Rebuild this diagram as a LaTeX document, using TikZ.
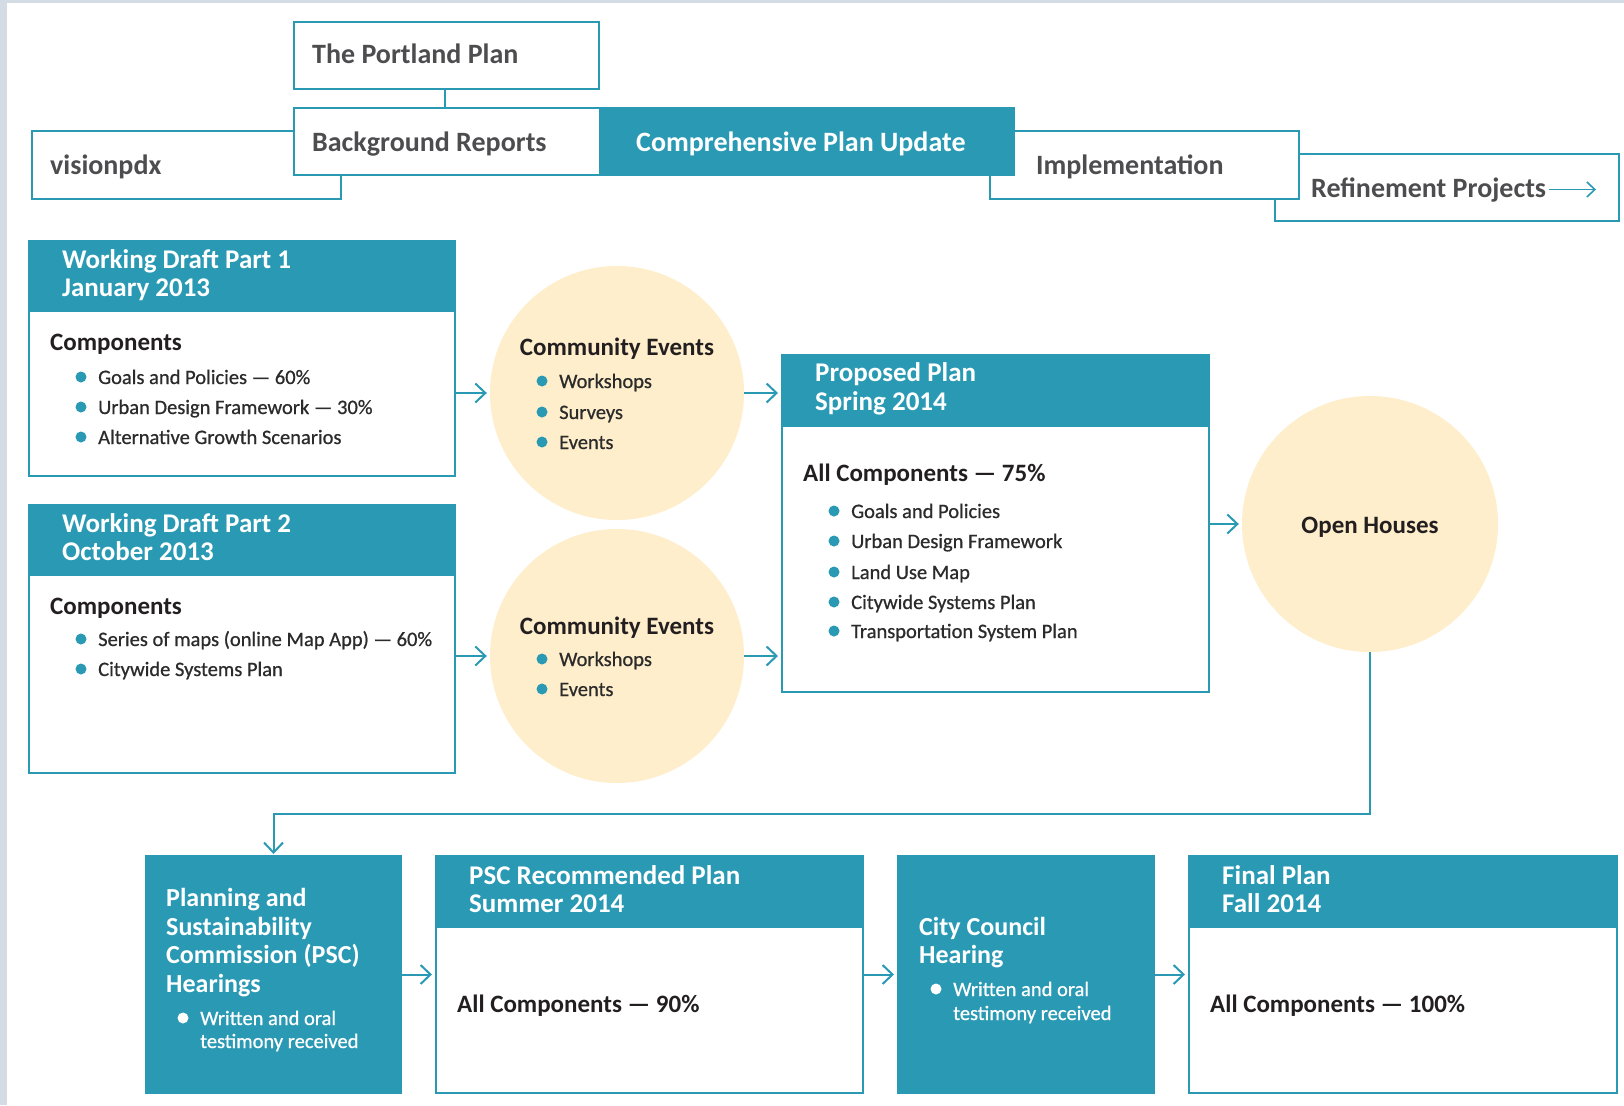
\documentclass[tikz,border=0pt]{standalone}
\usepackage{fontspec}
\setmainfont{Carlito}
\newfontfamily\bodyfont{Carlito}[FakeBold=0.7]
\usetikzlibrary{arrows.meta}
\definecolor{pteal}{HTML}{2A9AB4}
\definecolor{cream}{HTML}{FEEECB}
\definecolor{dgray}{HTML}{4D4D4F}
\definecolor{tblack}{HTML}{231F20}
\definecolor{bodyc}{HTML}{2B2B2B}
\definecolor{strip}{HTML}{D3DCE4}
\tikzset{
 box/.style={draw=pteal, line width=2pt, fill=white, inner sep=0pt, anchor=north west},
 fillbox/.style={box, fill=pteal},
 toplbl/.style={anchor=base west, inner sep=0pt, font=\fontsize{28}{32}\selectfont\bfseries, text=dgray},
 hdr/.style={anchor=base west, inner sep=0pt, font=\fontsize{27}{30}\selectfont\bfseries, text=white},
 ttl/.style={anchor=base west, inner sep=0pt, font=\fontsize{25}{28}\selectfont\bfseries, text=tblack},
 body/.style={anchor=base west, inner sep=0pt, font=\bodyfont\fontsize{20.5}{24}\selectfont, text=bodyc},
 wbody/.style={body, text=white},
 dot/.style={circle, fill=pteal, minimum size=11pt, inner sep=0pt},
 wdot/.style={dot, fill=white},
 evt/.style={circle, fill=cream, minimum size=254pt, inner sep=0pt},
 arr/.style={draw=pteal, line width=2pt, -{Straight Barb[length=10pt,width=19pt]}, shorten >=3pt},
 thinarr/.style={draw=pteal, line width=1.6pt, -{Straight Barb[length=8pt,width=15pt]}},
}
\begin{document}
\begin{tikzpicture}[x=1pt,y=-1pt]
\useasboundingbox (0,0) rectangle (1624,1105);
\fill[white] (0,0) rectangle (1624,1105);
\fill[strip] (0,0) rectangle (1624,3);
\fill[strip] (0,0) rectangle (7,1105);

% ---------- top timeline ----------
\node[box, minimum width=344pt, minimum height=67pt] (refine) at (1274,153) {};
\node[box, minimum width=309pt, minimum height=68pt] (impl) at (989,130) {};
\node[box, minimum width=309pt, minimum height=68pt] (vision) at (31,130) {};
\node[box, minimum width=306pt, minimum height=67pt] (backg) at (293,107) {};
\node[fillbox, minimum width=414pt, minimum height=67pt] (comp) at (599,107) {};
\node[box, minimum width=305pt, minimum height=67pt] (portland) at (293,21) {};
\draw[draw=pteal, line width=2pt] (portland.south -| 445,0) -- (backg.north -| 445,0);

\node[toplbl] (portlandt) at (312,64) {The Portland Plan};
\node[toplbl] (backgt) at (312,151) {Background Reports};
\node[toplbl, text=white] (compt) at (636,151) {Comprehensive Plan Update};
\node[toplbl] (visiont) at (50,174) {visionpdx};
\node[toplbl] (implt) at (1036,174) {Implementation};
\node[toplbl] (refinet) at (1311,197.5) {Refinement Projects};
\coordinate (rfstart) at (1549,189.5);
\coordinate (rfend) at (1596,189.5);
\draw[thinarr] (rfstart) -- (rfend);

% ---------- Working Draft Part 1 ----------
\node[box, minimum width=426pt, minimum height=235pt] (wd1) at (28,240) {};
\node[fillbox, minimum width=426pt, minimum height=70pt] (wd1h) at (28,240) {};
\node[hdr] (wd1t1) at (62,268) {Working Draft Part 1};
\node[hdr] (wd1t2) at (62,296) {January 2013};
\node[ttl] (wd1c) at (50,350) {Components};
\node[dot] (wd1d1) at (81,377) {};
\node[body] (wd1b1) at (98,384) {Goals and Policies — 60\%};
\node[dot] (wd1d2) at (81,407) {};
\node[body] (wd1b2) at (98,414) {Urban Design Framework — 30\%};
\node[dot] (wd1d3) at (81,437) {};
\node[body] (wd1b3) at (98,444) {Alternative Growth Scenarios};

% ---------- Working Draft Part 2 ----------
\node[box, minimum width=426pt, minimum height=268pt] (wd2) at (28,504) {};
\node[fillbox, minimum width=426pt, minimum height=70pt] (wd2h) at (28,504) {};
\node[hdr] (wd2t1) at (62,532) {Working Draft Part 2};
\node[hdr] (wd2t2) at (62,560) {October 2013};
\node[ttl] (wd2c) at (50,614) {Components};
\node[dot] (wd2d1) at (81,639) {};
\node[body] (wd2b1) at (98,646) {Series of maps (online Map App) — 60\%};
\node[dot] (wd2d2) at (81,669) {};
\node[body] (wd2b2) at (98,676) {Citywide Systems Plan};

% ---------- Community events circles ----------
\node[evt] (c1) at (617,393) {};
\node[ttl, anchor=base] (c1t) at (617,355) {Community Events};
\node[dot] (c1d1) at (542,381) {};
\node[body] (c1b1) at (559,388) {Workshops};
\node[dot] (c1d2) at (542,412) {};
\node[body] (c1b2) at (559,419) {Surveys};
\node[dot] (c1d3) at (542,442) {};
\node[body] (c1b3) at (559,449) {Events};

\node[evt] (c2) at (617,656) {};
\node[ttl, anchor=base] (c2t) at (617,634) {Community Events};
\node[dot] (c2d1) at (542,659) {};
\node[body] (c2b1) at (559,666) {Workshops};
\node[dot] (c2d2) at (542,689) {};
\node[body] (c2b2) at (559,696) {Events};

% ---------- Proposed Plan ----------
\node[box, minimum width=427pt, minimum height=337pt] (prop) at (781,354) {};
\node[fillbox, minimum width=427pt, minimum height=71pt] (proph) at (781,354) {};
\node[hdr] (propt1) at (815,381.5) {Proposed Plan};
\node[hdr] (propt2) at (815,410.5) {Spring 2014};
\node[ttl] (propc) at (803,481) {All Components — 75\%};
\node[dot] (propd1) at (834,511) {};
\node[body] (propb1) at (851,518) {Goals and Policies};
\node[dot] (propd2) at (834,541) {};
\node[body] (propb2) at (851,548) {Urban Design Framework};
\node[dot] (propd3) at (834,572) {};
\node[body] (propb3) at (851,579) {Land Use Map};
\node[dot] (propd4) at (834,602) {};
\node[body] (propb4) at (851,609) {Citywide Systems Plan};
\node[dot] (propd5) at (834,631) {};
\node[body] (propb5) at (851,638) {Transportation System Plan};

% ---------- Open Houses ----------
\node[evt, minimum size=256pt] (oh) at (1370,524) {};
\node[ttl, anchor=base] (oht) at (1370,533) {Open Houses};

% ---------- bottom row ----------
\node[fillbox, minimum width=255pt, minimum height=237pt] (psc) at (145,855) {};
\node[hdr, font=\fontsize{26}{30}\selectfont\bfseries] (psct1) at (166,906) {Planning and};
\node[hdr, font=\fontsize{26}{30}\selectfont\bfseries] (psct2) at (166,935) {Sustainability};
\node[hdr, font=\fontsize{26}{30}\selectfont\bfseries] (psct3) at (166,963) {Commission (PSC)};
\node[hdr, font=\fontsize{26}{30}\selectfont\bfseries] (psct4) at (166,992) {Hearings};
\node[wdot] (pscd) at (183,1018) {};
\node[wbody] (pscb1) at (200,1025) {Written and oral};
\node[wbody] (pscb2) at (200,1048) {testimony received};

\node[box, minimum width=427pt, minimum height=237pt] (pscrec) at (435,855) {};
\node[fillbox, minimum width=427pt, minimum height=71pt] (pscrech) at (435,855) {};
\node[hdr] (pscrect1) at (469,884) {PSC Recommended Plan};
\node[hdr] (pscrect2) at (469,912) {Summer 2014};
\node[ttl] (pscrecc) at (457,1012) {All Components — 90\%};

\node[fillbox, minimum width=256pt, minimum height=237pt] (council) at (897,855) {};
\node[hdr, font=\fontsize{26}{30}\selectfont\bfseries] (councilt1) at (919,935) {City Council};
\node[hdr, font=\fontsize{26}{30}\selectfont\bfseries] (councilt2) at (919,963) {Hearing};
\node[wdot] (councild) at (936,989) {};
\node[wbody] (councilb1) at (953,996) {Written and oral};
\node[wbody] (councilb2) at (953,1020) {testimony received};

\node[box, minimum width=428pt, minimum height=237pt] (final) at (1188,855) {};
\node[fillbox, minimum width=428pt, minimum height=71pt] (finalh) at (1188,855) {};
\node[hdr] (finalt1) at (1222,884) {Final Plan};
\node[hdr] (finalt2) at (1222,912) {Fall 2014};
\node[ttl] (finalc) at (1210,1012) {All Components — 100\%};

% ---------- connectors ----------
\draw[arr] (wd1.east |- c1) -- (c1.west);
\draw[arr] (c1.east) -- (c1.east -| prop.west);
\draw[arr] (wd2.east |- c2) -- (c2.west);
\draw[arr] (c2.east) -- (c2.east -| prop.west);
\draw[arr] (prop.east |- oh) -- (oh.west);
\coordinate (bend) at (1370,814);
\draw[arr, shorten >=1pt] (oh.south) -- (bend) -| (psc.north);
\draw[arr] (psc.east) -- (pscrec.west);
\draw[arr] (pscrec.east) -- (council.west);
\draw[arr] (council.east) -- (final.west);
\end{tikzpicture}
\end{document}
